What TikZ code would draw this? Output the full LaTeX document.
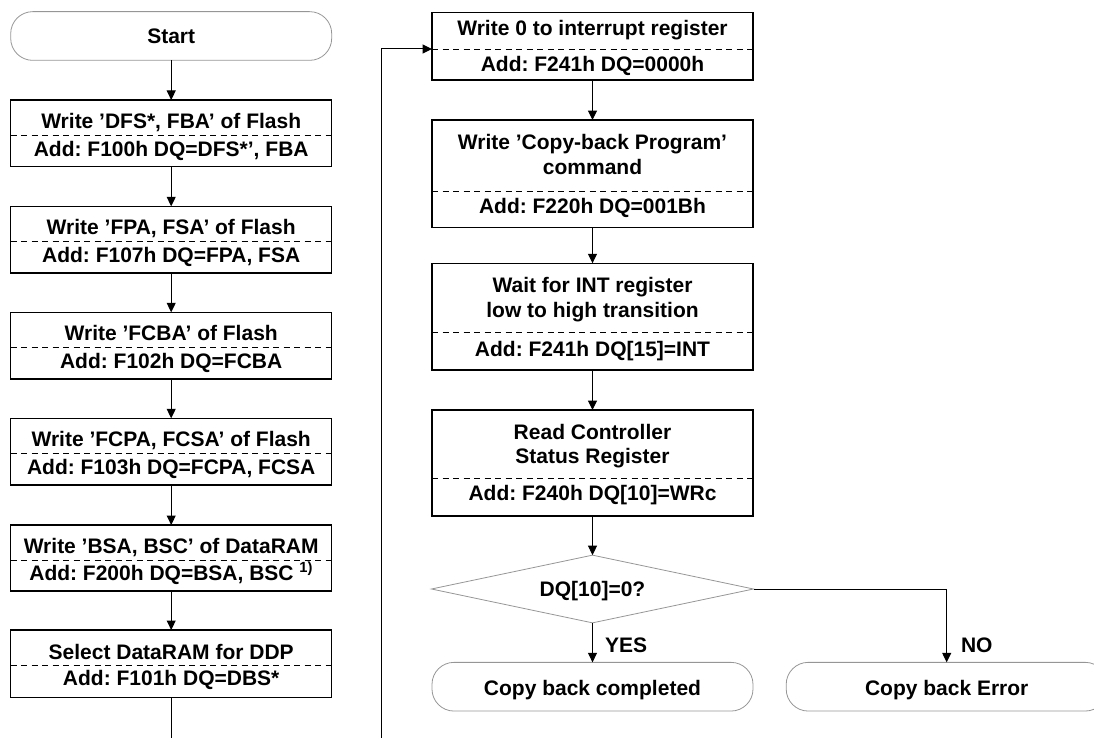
\documentclass[tikz,border=0pt]{standalone}
\usepackage{fontspec}
\setmainfont{Liberation Sans}
\usetikzlibrary{arrows.meta,shapes.geometric}
\definecolor{outlinegray}{RGB}{150,150,150}
\frenchspacing
\newcommand\procbox[5]{% name, cx, top, dash, bottom
  \node[pbox, minimum height={(#5-#3)*1bp}] (#1) at (#2,{(#3+#5)/2}) {};
  \draw[sepline] (#1.west |- 0,#4) -- (#1.east |- 0,#4);
}
\begin{document}
\begin{tikzpicture}[x=1bp,y=-1bp,
  every node/.style={inner sep=0pt, outer sep=0pt},
  pbox/.style={rectangle, draw=black, line width=1.1bp, minimum width=321bp},
  term/.style={rectangle, draw=outlinegray, line width=0.8bp, rounded corners=22bp,
               minimum width=321bp, minimum height=48.7bp},
  decision/.style={diamond, draw=outlinegray, line width=0.8bp, aspect=4.75,
               minimum width=322bp, minimum height=67.7bp},
  sepline/.style={draw=black, line width=0.9bp, dash pattern=on 6bp off 4.5bp},
  lbl/.style={font=\fontsize{21bp}{24.5bp}\selectfont\bfseries\frenchspacing, anchor=base, align=center},
  lbll/.style={font=\fontsize{21bp}{24.5bp}\selectfont\bfseries, anchor=base west},
  flow/.style={draw=black, line width=1bp, -{Triangle[length=9.5bp,width=9bp]}},
  plain/.style={draw=black, line width=1bp},
]
\useasboundingbox (0,0) rectangle (1094,738);
\clip (0,0) rectangle (1094,738);

% ---------- left column ----------
\node[term] (start) at (171.2,36) {};
\node[lbl] (startt) at (171.2,44) {Start};

\procbox{b1}{171.2}{100}{135}{166.7}
\node[lbl] (b1a) at (171.2,128.5) {Write ’DFS*, FBA’ of Flash};
\node[lbl] (b1b) at (171.2,156.5) {Add: F100h DQ=DFS*’, FBA};

\procbox{b2}{171.2}{206.3}{241.5}{273}
\node[lbl] (b2a) at (171.2,234) {Write ’FPA, FSA’ of Flash};
\node[lbl] (b2b) at (171.2,262.5) {Add: F107h DQ=FPA, FSA};

\procbox{b3}{171.2}{312.3}{347.3}{379}
\node[lbl] (b3a) at (171.2,340) {Write ’FCBA’ of Flash};
\node[lbl] (b3b) at (171.2,368) {Add: F102h DQ=FCBA};

\procbox{b4}{171.2}{418.3}{453.3}{485}
\node[lbl] (b4a) at (171.2,446.5) {Write ’FCPA, FCSA’ of Flash};
\node[lbl] (b4b) at (171.2,474) {Add: F103h DQ=FCPA, FCSA};

\procbox{b5}{171.2}{525}{560}{591}
\node[lbl] (b5a) at (171.2,553) {Write ’BSA, BSC’ of DataRAM};
\node[lbl] (b5b) at (171.2,580) {Add: F200h DQ=BSA, BSC \textsuperscript{1)}};

\procbox{b6}{171.2}{630}{665}{697.3}
\node[lbl] (b6a) at (171.2,659) {Select DataRAM for DDP};
\node[lbl] (b6b) at (171.2,685.5) {Add: F101h DQ=DBS*};

\coordinate (leftend) at (171.2,738);

\draw[flow] (start) -- (b1);
\draw[flow] (b1) -- (b2);
\draw[flow] (b2) -- (b3);
\draw[flow] (b3) -- (b4);
\draw[flow] (b4) -- (b5);
\draw[flow] (b5) -- (b6);
\draw[plain] (b6) -- (leftend);

% ---------- right column ----------
\procbox{r1}{592.5}{12.7}{49}{80}
\node[lbl] (r1a) at (592.5,36) {Write 0 to interrupt register};
\node[lbl] (r1b) at (592.5,71.7) {Add: F241h DQ=0000h};

\procbox{r2}{592.5}{120}{191.7}{227.7}
\node[lbl] (r2a) at (592.5,174) {Write ’Copy-back Program’\\command};
\node[lbl] (r2b) at (592.5,213.3) {Add: F220h DQ=001Bh};

\procbox{r3}{592.5}{263.3}{332.3}{370}
\node[lbl] (r3a) at (592.5,317) {Wait for INT register\\low to high transition};
\node[lbl] (r3b) at (592.5,356.7) {Add: F241h DQ[15]=INT};

\procbox{r4}{592.5}{410}{478.3}{516}
\node[lbl] (r4a) at (592.5,463.5) {Read Controller\\Status Register};
\node[lbl] (r4b) at (592.5,500) {Add: F240h DQ[10]=WRc};

\node[decision] (q) at (592.5,589) {};
\node[lbl] (qt) at (592.5,596.5) {DQ[10]=0?};

\node[term] (done) at (592.5,686.7) {};
\node[lbl] (donet) at (592.5,695) {Copy back completed};

\node[term] (err) at (946.7,686.7) {};
\node[lbl] (errt) at (946.7,695) {Copy back Error};

\node[lbll] (yes) at (605,652.5) {YES};
\node[lbll] (no) at (961,652.5) {NO};

\coordinate (loopstart) at (381.7,738);
\coordinate (loopin) at (r1.west |- 0,49);
\draw[flow] (loopstart) |- (loopin);

\draw[flow] (r1) -- (r2);
\draw[flow] (r2) -- (r3);
\draw[flow] (r3) -- (r4);
\draw[flow] (r4) -- (q);
\draw[flow] (q) -- (done);
\draw[flow] (q.east) -| (err.north);
\end{tikzpicture}
\end{document}
